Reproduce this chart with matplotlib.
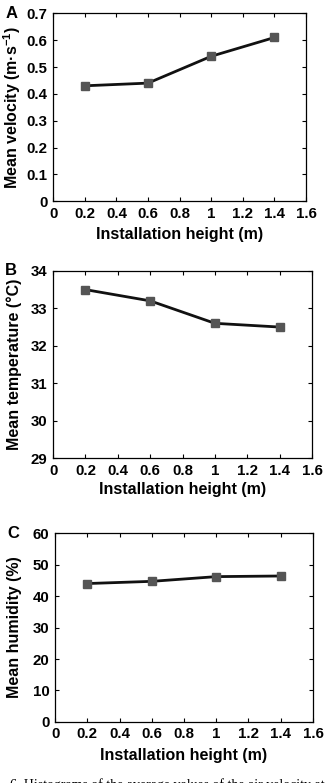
import matplotlib
matplotlib.use('Agg')
import matplotlib.pyplot as plt

plt.rcParams['font.family'] = 'Liberation Sans'
plt.rcParams['font.weight'] = 'bold'
plt.rcParams['mathtext.fontset'] = 'custom'
plt.rcParams['mathtext.rm'] = 'Liberation Sans:bold'
plt.rcParams['mathtext.bf'] = 'Liberation Sans:bold'
plt.rcParams['mathtext.default'] = 'bf'

# data
heights = [0.2, 0.6, 1.0, 1.4]
velocity = [0.43, 0.44, 0.54, 0.61]
temperature = [33.5, 33.2, 32.6, 32.5]
humidity = [44.0, 44.7, 46.2, 46.4]

x_ticks = [0, 0.2, 0.4, 0.6, 0.8, 1.0, 1.2, 1.4, 1.6]
x_tick_labels = ['0', '0.2', '0.4', '0.6', '0.8', '1', '1.2', '1.4', '1.6']

panels = [
    ('A', velocity, 'Mean velocity (m·s$^{-1}$)',
     [0, 0.1, 0.2, 0.3, 0.4, 0.5, 0.6, 0.7],
     ['0', '0.1', '0.2', '0.3', '0.4', '0.5', '0.6', '0.7'],
     [0.163, 0.743, 0.776, 0.240], -0.12, -0.138),
    ('B', temperature, 'Mean temperature (°C)',
     [29, 30, 31, 32, 33, 34],
     ['29', '30', '31', '32', '33', '34'],
     [0.163, 0.415, 0.794, 0.239], -0.12, -0.128),
    ('C', humidity, 'Mean humidity (%)',
     [0, 10, 20, 30, 40, 50, 60],
     ['0', '10', '20', '30', '40', '50', '60'],
     [0.169, 0.078, 0.791, 0.241], -0.13, -0.138),
]

fig = plt.figure(figsize=(3.26, 7.83), dpi=100)

for letter, values, ylabel, yticks, ylabels, pos, ylab_x, xlab_y in panels:
    ax = fig.add_axes(pos)
    ax.plot(heights, values, color='#111111', linewidth=2.0, marker='s',
            markersize=5.5, markerfacecolor='#555555', markeredgecolor='#555555')
    ax.set_xlim(0, 1.6)
    ax.set_ylim(yticks[0], yticks[-1])
    ax.set_xticks(x_ticks)
    ax.set_xticklabels(x_tick_labels)
    ax.set_yticks(yticks)
    ax.set_yticklabels(ylabels)
    ax.tick_params(direction='in', length=3, width=0.8, top=True, right=True,
                   labelsize=10.8, pad=4)
    for s in ax.spines.values():
        s.set_linewidth(0.9)
    ax.set_ylabel(ylabel, fontsize=11.5, fontweight='bold')
    ax.set_xlabel('Installation height (m)', fontsize=11.5, fontweight='bold')
    ax.yaxis.set_label_coords(ylab_x, 0.5)
    ax.xaxis.set_label_coords(0.5, xlab_y)
    ax.text(-36 / 326 / pos[2], 1.0, letter, transform=ax.transAxes, fontsize=12,
            fontweight='bold', ha='right', va='center')

fig.text(0.03, 1 - 778 / 783, '6. Histograms of the average values of the air velocity at',
         family='Liberation Serif', fontweight='normal', fontsize=10, va='top', ha='left')

fig.savefig('out.png', dpi=100)
